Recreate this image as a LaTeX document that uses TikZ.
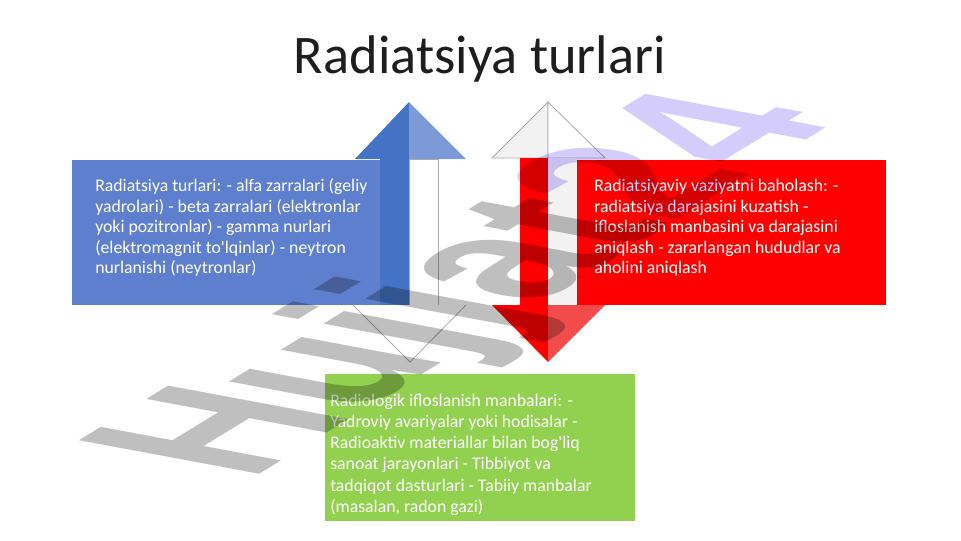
\documentclass[tikz,border=0pt]{standalone}
\usepackage{fontspec}
\setmainfont{Carlito}
\newfontfamily\wmfont{Liberation Sans Bold}
\definecolor{boxblue}{RGB}{94,127,205}
\definecolor{arrowblue}{RGB}{68,114,196}
\definecolor{lightblue}{RGB}{124,153,216}
\definecolor{boxred}{RGB}{255,0,0}
\definecolor{lightred}{RGB}{242,75,75}
\definecolor{ghost}{RGB}{242,242,242}
\definecolor{ghostline}{RGB}{170,170,170}
\definecolor{boxgreen}{RGB}{146,208,80}
\definecolor{titlecol}{RGB}{30,30,30}
\definecolor{wmgrey}{RGB}{191,191,191}
\definecolor{wmpurple}{RGB}{212,204,250}
\tikzset{
  panel/.style={draw=none, inner sep=0pt, anchor=north west},
  bodytext/.style={inner sep=0pt, anchor=base west, text=white},
  ghostpart/.style={draw=ghostline, line width=0.6pt, line join=miter},
  wmtext/.style={transform shape, anchor=base west, inner sep=0pt, font=\wmfont\fontsize{100}{100}\selectfont},
}
\newcommand{\bodyfont}{\fontsize{13.3}{15.4}\selectfont}
\begin{document}
\begin{tikzpicture}[x=0.75pt,y=-0.75pt]
\useasboundingbox (0,0) rectangle (961,540);
\fill[white] (0,0) rectangle (961,540);

% title
\node[inner sep=0pt, anchor=base, text=titlecol, font=\fontsize{40.8}{48}\selectfont] (title) at (480,73) {Radiatsiya turlari};

% panels
\node[panel, fill=boxblue, minimum width=252pt, minimum height=108.75pt] (bluebox) at (72,160) {};
\node[panel, fill=boxred, minimum width=231.75pt, minimum height=108.75pt] (redbox) at (577,160) {};
\node[panel, fill=boxgreen, minimum width=232.5pt, minimum height=110.25pt] (greenbox) at (325,374) {};

% blue up arrow
\fill[arrowblue] (355,159) -- (409,102) -- (409,159) -- cycle;
\fill[lightblue] (409,102) -- (466,159) -- (409,159) -- cycle;
\fill[arrowblue] (380,159) rectangle (409,305);
\filldraw[fill=white, ghostpart] (409,159) rectangle (438,305);
\filldraw[fill=white, ghostpart] (353,305) -- (410,362) -- (466,305);

% red down arrow
\filldraw[fill=ghost, ghostpart] (492,158) -- (548,102) -- (548,158) -- cycle;
\filldraw[fill=white, ghostpart] (548,102) -- (605,158) -- (548,158) -- cycle;
\fill[boxred] (520,158) rectangle (548,305);
\fill[ghost] (548,158) rectangle (577,305);
\fill[boxred] (492,305) -- (548,305) -- (548,362) -- cycle;
\fill[lightred] (548,305) -- (605,305) -- (548,362) -- cycle;

% texts
\node[bodytext] (bluetext) at (95,191.7) {\begin{minipage}[t]{300pt}\bodyfont\raggedright
Radiatsiya turlari: - alfa zarralari (geliy\\
yadrolari) - beta zarralari (elektronlar\\
yoki pozitronlar) - gamma nurlari\\
(elektromagnit to\textquotesingle lqinlar) - neytron\\
nurlanishi (neytronlar)\end{minipage}};

\node[bodytext] (redtext) at (594,191.7) {\begin{minipage}[t]{300pt}\bodyfont\raggedright
Radiatsiyaviy vaziyatni baholash: -\\
radiatsiya darajasini kuzatish -\\
ifloslanish manbasini va darajasini\\
aniqlash - zararlangan hududlar va\\
aholini aniqlash\end{minipage}};

\node[bodytext] (greentext) at (330,406.5) {\begin{minipage}[t]{300pt}\fontsize{13.3}{15.85}\selectfont\raggedright
Radiologik ifloslanish manbalari: -\\
Yadroviy avariyalar yoki hodisalar -\\
Radioaktiv materiallar bilan bog\textquotesingle liq\\
sanoat jarayonlari - Tibbiyot va\\
tadqiqot dasturlari - Tabiiy manbalar\\
(masalan, radon gazi)\end{minipage}};

% watermark
\begin{scope}[blend mode=multiply, shift={(249,481)}, cm={1.139,0.697,-1.966,0.366,(0,0)}]
\node[wmtext, text=wmgrey] (wm1) at (0,0) {Hujjat};
\node[wmtext, text=wmpurple] (wm2) at (wm1.base east) {24};
\end{scope}
\end{tikzpicture}
\end{document}
